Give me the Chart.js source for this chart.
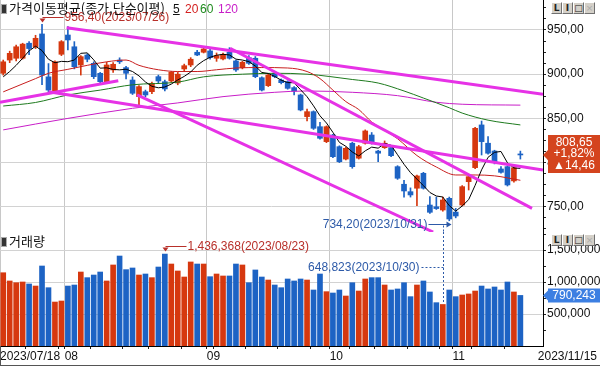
<!DOCTYPE html>
<html>
<head>
<meta charset="utf-8">
<script src="https://cdn.jsdelivr.net/npm/chart.js@4.4.0/dist/chart.umd.min.js"></script>
<style>
  body { margin: 0; background: #fff; }
  #wrap { position: relative; width: 600px; height: 366px; overflow: hidden; font-family: "Noto Sans CJK KR", sans-serif; }
  canvas { position: absolute; left: 0; }
  #price { top: 0; }
  #volume { top: 232px; }
  .head { position: absolute; font-size: 13px; line-height: 14px; white-space: nowrap; color: #111; }
  .num { font: 12px/14px "Liberation Sans", Arial, sans-serif; }
  .ico { display: inline-block; width: 4px; height: 8px; background: #333; border: 1px solid #aaa; margin: 0 2px 0 1px; vertical-align: -1px; }
  .btns { position: absolute; left: 551px; display: flex; }
  .btns span { box-sizing: border-box; width: 11px; height: 12px; background: #d4d0c8; border: 1px solid; border-color: #fff #707070 #707070 #fff; font: bold 9px/10px "DejaVu Sans", sans-serif; text-align: center; color: #222; }
  .btns span.off { color: #aaa; font-weight: normal; }
  .frame { position: absolute; background: #555; }
</style>
</head>
<body>
<div id="wrap">
  <canvas id="price" width="600" height="232"></canvas>
  <canvas id="volume" width="600" height="134"></canvas>
  <div class="head" style="top:1px;left:0"><span class="ico"></span>가격이동평균(종가,단순이평)</div>
  <div class="head num" style="top:2px;left:173px"><u>5</u></div>
  <div class="head num" style="top:2px;left:185px;color:#d42020">20</div>
  <div class="head num" style="top:2px;left:200px;color:#1e8a1e">60</div>
  <div class="head num" style="top:2px;left:218px;color:#c81ec8">120</div>
  <div class="head" style="top:234px;left:0"><span class="ico"></span>거래량</div>
  <div class="btns" style="top:2px"><span>L</span><span>I</span><span>□</span><span class="off">×</span></div>
  <div class="btns" style="top:234px"><span>L</span><span>I</span><span>□</span><span class="off">×</span></div>
  <div class="frame" style="left:0;top:346px;width:1px;height:20px"></div>
  <div class="frame" style="left:0;top:365px;width:600px;height:1px"></div>
</div>
<script>
const dates = [
  "2023/07/18", "2023/07/19", "2023/07/20", "2023/07/21", "2023/07/24", "2023/07/25", "2023/07/26", "2023/07/27", "2023/07/28", "2023/07/31",
  "2023/08/01", "2023/08/02", "2023/08/03", "2023/08/04", "2023/08/07", "2023/08/08", "2023/08/09", "2023/08/10", "2023/08/11", "2023/08/14",
  "2023/08/16", "2023/08/17", "2023/08/18", "2023/08/21", "2023/08/22", "2023/08/23", "2023/08/24", "2023/08/25", "2023/08/28", "2023/08/29",
  "2023/08/30", "2023/08/31", "2023/09/01", "2023/09/04", "2023/09/05", "2023/09/06", "2023/09/07", "2023/09/08", "2023/09/11", "2023/09/12",
  "2023/09/13", "2023/09/14", "2023/09/15", "2023/09/18", "2023/09/19", "2023/09/20", "2023/09/21", "2023/09/22", "2023/09/25", "2023/09/26",
  "2023/09/27", "2023/10/04", "2023/10/05", "2023/10/06", "2023/10/10", "2023/10/11", "2023/10/12", "2023/10/13", "2023/10/16", "2023/10/17",
  "2023/10/18", "2023/10/19", "2023/10/20", "2023/10/23", "2023/10/24", "2023/10/25", "2023/10/26", "2023/10/27", "2023/10/30", "2023/10/31",
  "2023/11/01", "2023/11/02", "2023/11/03", "2023/11/06", "2023/11/07", "2023/11/08", "2023/11/09", "2023/11/10", "2023/11/13", "2023/11/14",
  "2023/11/15",
];

const opens = [
  901, 916, 918, 918, 935, 931, 945.5, 897, 880, 922.5,
  944.3, 931, 910.4, 921.7, 912.3, 901, 891.5, 904.8, 916, 907.4,
  893.4, 874.6, 880.2, 880.2, 897.2, 891.5, 892.3, 890, 905.9, 910.4,
  924.8, 924.8, 926.3, 918, 917.2, 924.8, 915, 907.4, 918.7, 918,
  896, 887, 901, 893.4, 891.5, 884.8, 876.5, 852, 857.6, 840.6,
  823.7, 831.2, 818, 804, 821.9, 805, 821.9, 831.2, 813, 816.9,
  816.9, 795.4, 775.5, 767.1, 771, 787.9, 752, 750, 746.4, 759.6,
  744, 752, 778.4, 794.3, 842.6, 821.9, 813.1, 792.8, 795.4, 779.3,
  808.65,
];
const highs = [
  916, 926, 933, 935, 937, 944, 956.4, 912, 915, 938,
  953.7, 936.8, 921, 923, 914, 902, 913.5, 913, 918.5, 909,
  897, 887, 882, 891, 899, 893.4, 903, 902, 911.4, 918.7,
  927, 930, 929.3, 924, 924, 930, 916, 914.5, 921, 920,
  897, 900, 902.5, 894.6, 892.5, 886, 877.5, 860.5, 858.5, 845.5,
  841.5, 832, 819, 817.5, 823, 819.5, 837, 834, 814, 824.5,
  818, 796.5, 780, 771.4, 786, 789, 761.5, 761, 761, 761,
  748.2, 774, 785, 840, 847, 829.3, 814, 795.4, 796.5, 795.5,
  813,
];
const lows = [
  899, 913, 915, 917, 922, 929, 888, 880, 878, 921,
  927.4, 906, 899, 914, 895, 888.6, 890, 902, 912, 894.6,
  877, 865.2, 874.5, 878, 890, 881, 891, 888, 903, 908.5,
  920.9, 924, 917, 914.5, 916, 917, 903, 906, 911, 896,
  881, 886, 896, 889, 883, 876.5, 858.5, 847, 837.5, 826.5,
  822.5, 805.5, 800, 803, 793.6, 804, 820.9, 820.9, 801, 816,
  806.7, 781, 761, 761, 751.3, 770, 742.5, 747, 745, 734.2,
  737.5, 751, 769, 793, 808.6, 809.6, 798.5, 787.9, 773.5, 778,
  804,
];
const closes = [
  914, 923.6, 931, 934, 929, 940.6, 899, 882, 914, 936.8,
  938.7, 908.5, 919.8, 916.9, 897.2, 891.5, 910.4, 911.2, 914, 901,
  878.4, 885.9, 876.5, 889.7, 892.3, 883.3, 902.2, 900, 909.6, 916.9,
  921.7, 928.5, 918.7, 921, 922.5, 918, 904.8, 913.5, 912.3, 897.2,
  882, 899, 897.2, 890.4, 884, 881, 859.5, 857.6, 838.8, 827.5,
  840.6, 806.7, 801, 816.2, 795.4, 818, 835.8, 821.9, 810.6, 821.9,
  807.8, 782.3, 767.9, 763.4, 784.9, 771, 743.8, 748, 757.7, 736.2,
  739.6, 772.8, 784.1, 838.8, 823.7, 810.6, 801, 789, 774.7, 794.19,
  808.65,
];
const volumes = [
  1145000, 1016000, 989000, 1000000, 969000, 937000, 1250000, 911000, 687000, 703000,
  937000, 953000, 1156000, 1068000, 1109000, 1156000, 1016000, 1266000, 1406000, 1193000,
  1219000, 1109000, 1125000, 1068000, 1234000, 1436368, 1281000, 1172000, 1078000, 1313000,
  1281000, 1281000, 1083000, 1125000, 1094000, 1094000, 1281000, 1266000, 989000, 1188000,
  1078000, 1031000, 953000, 911000, 1047000, 1016000, 1047000, 1031000, 875000, 1125000,
  849000, 828000, 875000, 781000, 989000, 859000, 1047000, 1068000, 1068000, 953000,
  875000, 891000, 989000, 771000, 953000, 1016000, 844000, 677000, 648823, 875000,
  771000, 797000, 813000, 859000, 937000, 891000, 922000, 875000, 1000000, 844000,
  790243,
];

// moving averages
const ma5 = [
  897, 903, 910, 918, 926.3, 931.6, 926.7, 916.9, 912.9, 914.5,
  914.1, 916, 923.6, 924.1, 916.2, 906.8, 907.2, 905.4, 904.9, 905.6,
  903, 898.1, 891.2, 886.3, 884.6, 885.5, 888.8, 893.5, 897.5, 902.4,
  910.1, 915.3, 919.1, 921.4, 922.5, 921.7, 917, 916, 914.2, 909.2,
  902, 900.8, 897.5, 893.2, 890.5, 890.3, 882.4, 874.5, 864.2, 852.9,
  844.8, 834.2, 822.9, 818.4, 812, 807.5, 813.3, 817.5, 816.3, 821.6,
  819.6, 808.9, 798.1, 788.7, 781.3, 773.9, 766.2, 762.2, 761.1, 751.3,
  745.1, 750.9, 758.1, 774.3, 791.8, 806, 811.6, 812.6, 799.8, 793.9,
  793.5,
];
const ma20 = [
  [0, 880], [5, 895], [7, 901], [10, 905.5], [13, 910], [16, 914], [19, 916], [21, 910],
  [24, 905], [27, 903], [30, 903], [33, 905], [36, 907], [40, 907.5], [44, 907], [47, 903],
  [49, 895], [51, 882], [53, 869], [55, 860], [57, 846], [61, 827], [64, 808], [67, 795],
  [70, 786], [73, 786], [76, 785], [80, 780],
];
const ma60 = [
  [0, 864], [5, 868], [10, 876.5], [15, 882], [20, 888], [27, 891], [31, 897], [37, 900],
  [42, 901], [47, 900], [54, 894], [58, 890], [62, 881], [65, 873], [69, 862], [71, 856],
  [75, 848], [80, 842.6],
];
const ma120 = [
  [0, 837], [10, 850], [20, 861.4], [27, 867.5], [34, 874.6], [42, 879.5], [47, 881],
  [54, 879.5], [61, 875.7], [67, 868.2], [71, 866], [80, 865],
];

// user drawn trend lines: [index, price] end points
const trendLines = [
  [[9.8, 952.6], [83.5, 877.3]],
  [[-0.5, 868.2], [17.8, 892.6]],
  [[7, 880.2], [83.5, 791.6]],
  [[20.7, 876.5], [66.5, 721.5]],
  [[35.1, 929.3], [81.8, 748.3]],
];

const priceLabels = [750, 800, 850, 900, 950];
const volumeLabels = [500000, 1000000, 1500000];

const xMin = -0.5;
const xMax = 83.5;
const lastLabelAt = 82.7;
const priceMin = 721.5;
const priceMax = 983.9;
const volumeMax = 1781250;

const upColor = "#d6380f";
const downColor = "#1d63c4";
const trendColor = "#e632e6";
const gridColor = "#d2d2d2";
const redText = "#b8302a";
const blueText = "#2d5aa8";
const axisFont = { family: "'Liberation Sans', Arial, sans-serif", size: 12 };
const clear = "rgba(0,0,0,0)";

const fmtPrice = (v) => v.toFixed(2).replace(".", ",");
const fmtVol = (v) => Math.round(v).toLocaleString("en-US");
const candleColor = (i) => (closes[i] > opens[i] ? upColor : downColor);
const pts = (list) => list.map(([x, y]) => ({ x, y }));

// x axis ticks: first date, month starts, week starts, last date
const axisTicks = [{ value: xMin, label: dates[0], kind: "edge" }];
for (let i = 1; i < dates.length; i++) {
  const m = dates[i].slice(5, 7);
  const pm = dates[i - 1].slice(5, 7);
  const d = new Date(dates[i]);
  const pd = new Date(dates[i - 1]);
  if (m !== pm) {
    axisTicks.push({ value: i - 0.5, label: m, kind: "month" });
  } else if (d.getDay() <= pd.getDay() || d - pd > 6 * 864e5) {
    axisTicks.push({ value: i - 0.5, label: "", kind: "week" });
  }
}
axisTicks.push({ value: lastLabelAt, label: dates[dates.length - 1], kind: "end" });

const tickList = (step, max) => {
  const out = [];
  for (let v = step; v < max; v += step) out.push({ value: v });
  return out;
};

const arrowDown = (ctx, x, y) => {
  ctx.beginPath();
  ctx.moveTo(x - 3, y);
  ctx.lineTo(x + 3, y);
  ctx.lineTo(x, y + 4);
  ctx.closePath();
  ctx.fill();
};

const tag = (ctx, x, y, top, bottom, color) => {
  ctx.fillStyle = color;
  ctx.beginPath();
  ctx.moveTo(x, y);
  ctx.lineTo(x + 5, y - 5);
  ctx.lineTo(x + 5, top);
  ctx.lineTo(600, top);
  ctx.lineTo(600, bottom);
  ctx.lineTo(x + 5, bottom);
  ctx.lineTo(x + 5, y + 5);
  ctx.closePath();
  ctx.fill();
};

const priceMarks = {
  id: "priceMarks",
  afterDatasetsDraw(chart) {
    const { ctx, chartArea } = chart;
    const { x, y } = chart.scales;
    ctx.save();
    ctx.font = "12px 'Liberation Sans', Arial";
    ctx.textBaseline = "middle";
    ctx.lineWidth = 1;

    // highest high
    const iHi = highs.indexOf(Math.max(...highs));
    let px = Math.round(x.getPixelForValue(iHi)) + 0.5;
    let ty = Math.round(y.getPixelForValue(highs[iHi])) - 6.5;
    ctx.strokeStyle = ctx.fillStyle = redText;
    ctx.beginPath();
    ctx.moveTo(px, ty);
    ctx.lineTo(px + 21, ty);
    ctx.stroke();
    arrowDown(ctx, px, ty + 1);
    ctx.textAlign = "left";
    ctx.fillText(`${fmtPrice(highs[iHi])}(${dates[iHi]})`, px + 22, ty);

    // lowest low
    const iLo = lows.indexOf(Math.min(...lows));
    px = Math.round(x.getPixelForValue(iLo)) + 1.5;
    ty = Math.round(y.getPixelForValue(lows[iLo])) + 3.5;
    ctx.strokeStyle = ctx.fillStyle = blueText;
    ctx.beginPath();
    ctx.moveTo(px - 22, ty);
    ctx.lineTo(px, ty);
    ctx.stroke();
    ctx.beginPath();
    ctx.moveTo(px + 1, ty);
    ctx.lineTo(px - 4, ty - 3);
    ctx.lineTo(px - 4, ty + 3);
    ctx.closePath();
    ctx.fill();
    ctx.textAlign = "right";
    ctx.fillText(`${fmtPrice(lows[iLo])}(${dates[iLo]})`, px - 23, ty);

    // dotted guide of the lowest volume day starts here
    const iVol = volumes.indexOf(Math.min(...volumes));
    const vx = Math.round(x.getPixelForValue(iVol)) + 0.5;
    ctx.setLineDash([2, 2]);
    ctx.beginPath();
    ctx.moveTo(vx, ty + 1);
    ctx.lineTo(vx, chartArea.bottom);
    ctx.stroke();
    ctx.setLineDash([]);

    // last price tag
    const n = closes.length - 1;
    const cy = y.getPixelForValue(closes[n]);
    tag(ctx, chartArea.right, cy, cy - 20, cy + 18, "#d4441e");
    const diff = closes[n] - closes[n - 1];
    ctx.fillStyle = "#fff";
    ctx.textAlign = "center";
    ctx.fillText(fmtPrice(closes[n]), 574, cy - 12);
    ctx.fillText(`+${fmtPrice((diff / closes[n - 1]) * 100)}%`, 574, cy - 1);
    ctx.fillText(`▲${fmtPrice(diff)}`, 574, cy + 10.5);
    ctx.restore();
  },
};

const volumeMarks = {
  id: "volumeMarks",
  afterDatasetsDraw(chart) {
    const { ctx, chartArea } = chart;
    const { x, y } = chart.scales;
    ctx.save();
    ctx.font = "12px 'Liberation Sans', Arial";
    ctx.textBaseline = "middle";
    ctx.lineWidth = 1;

    const iHi = volumes.indexOf(Math.max(...volumes));
    let px = Math.round(x.getPixelForValue(iHi)) + 0.5;
    let ty = Math.round(y.getPixelForValue(volumes[iHi])) - 7.5;
    ctx.strokeStyle = ctx.fillStyle = redText;
    ctx.beginPath();
    ctx.moveTo(px, ty);
    ctx.lineTo(px + 21, ty);
    ctx.stroke();
    arrowDown(ctx, px, ty + 1);
    ctx.textAlign = "left";
    ctx.fillText(`${fmtVol(volumes[iHi])}(${dates[iHi]})`, px + 22, ty);

    const iLo = volumes.indexOf(Math.min(...volumes));
    px = Math.round(x.getPixelForValue(iLo)) + 0.5;
    const barTop = Math.round(y.getPixelForValue(volumes[iLo]));
    ty = barTop - 36.5;
    ctx.strokeStyle = ctx.fillStyle = blueText;
    ctx.setLineDash([2, 2]);
    ctx.beginPath();
    ctx.moveTo(px, chartArea.top);
    ctx.lineTo(px, barTop - 1);
    ctx.moveTo(px - 22, ty);
    ctx.lineTo(px, ty);
    ctx.stroke();
    ctx.setLineDash([]);
    ctx.textAlign = "right";
    ctx.fillText(`${fmtVol(volumes[iLo])}(${dates[iLo]})`, px - 24, ty);

    const n = volumes.length - 1;
    const cy = y.getPixelForValue(volumes[n]);
    tag(ctx, chartArea.right, cy, cy - 7, cy + 7, "#3c7fe2");
    ctx.fillStyle = "#fff";
    ctx.textAlign = "center";
    ctx.fillText(fmtVol(volumes[n]), 574, cy);
    ctx.restore();
  },
};

const xScale = (withLabels) => ({
  type: "linear",
  min: xMin,
  max: xMax,
  offset: false,
  afterBuildTicks: (s) => {
    s.ticks = axisTicks.map((t) => ({ value: t.value }));
  },
  afterFit: (s) => {
    s.height = withLabels ? 20 : 0;
    s.paddingLeft = 0;
    s.paddingRight = 0;
  },
  ticks: {
    display: withLabels,
    autoSkip: false,
    maxRotation: 0,
    minRotation: 0,
    align: "start",
    padding: 0,
    color: "#111",
    font: axisFont,
    callback: (v, i) => axisTicks[i].label,
  },
  grid: {
    offset: false,
    drawTicks: withLabels,
    tickLength: 3,
    color: (c) => {
      const t = axisTicks[c.index];
      return t && (t.kind === "month" || t.kind === "edge") ? "#c8c8c8" : clear;
    },
    tickColor: (c) => {
      const t = axisTicks[c.index];
      return t && (t.kind === "month" || t.kind === "week") ? "#222" : clear;
    },
  },
  border: { display: true, color: withLabels ? "#000" : "#8c8c8c" },
});

const yScale = (min, max, step, labels, fmt) => ({
  type: "linear",
  position: "right",
  min,
  max,
  afterBuildTicks: (s) => {
    s.ticks = tickList(step, max);
  },
  afterFit: (s) => {
    s.width = 57;
    s.paddingTop = 0;
    s.paddingBottom = 0;
  },
  ticks: {
    autoSkip: false,
    padding: 1,
    color: "#111",
    font: axisFont,
    callback: (v) => (labels.includes(v) ? fmt(v) : ""),
  },
  grid: {
    drawTicks: true,
    tickLength: 3,
    color: (c) => (c.tick && labels.includes(c.tick.value) ? gridColor : clear),
    tickColor: "#222",
  },
  border: { display: true, color: "#000" },
});

const baseOptions = {
  responsive: false,
  animation: false,
  events: [],
  layout: { padding: 0 },
  plugins: { legend: { display: false }, tooltip: { enabled: false } },
};

const maLine = (data, color) => ({
  type: "line",
  data,
  borderColor: color,
  borderWidth: 1,
  pointRadius: 0,
  cubicInterpolationMode: "monotone",
  order: 2,
});

new Chart(document.getElementById("price"), {
  type: "line",
  data: {
    datasets: [
      ...trendLines.map((seg) => ({
        data: pts(seg),
        borderColor: trendColor,
        borderWidth: 3,
        pointRadius: 0,
        clip: 0,
        order: 0,
      })),
      { ...maLine(ma5.map((v, i) => ({ x: i, y: v })), "#000"), cubicInterpolationMode: "default", order: 1 },
      maLine(pts(ma20), "#c81e1e"),
      maLine(pts(ma60), "#1e7a1e"),
      maLine(pts(ma120), "#c81ec8"),
      {
        type: "bar",
        data: lows.map((v, i) => ({ x: i, y: [v, highs[i]] })),
        backgroundColor: (c) => candleColor(c.dataIndex),
        barThickness: 1,
        grouped: false,
        order: 11,
      },
      {
        type: "bar",
        data: opens.map((v, i) => ({ x: i, y: [v, closes[i]] })),
        backgroundColor: (c) => candleColor(c.dataIndex),
        barThickness: 5,
        minBarLength: 1,
        grouped: false,
        order: 10,
      },
    ],
  },
  options: {
    ...baseOptions,
    scales: {
      x: xScale(false),
      y: yScale(priceMin, priceMax, 12.5, priceLabels, fmtPrice),
    },
  },
  plugins: [priceMarks],
});

new Chart(document.getElementById("volume"), {
  type: "bar",
  data: {
    datasets: [
      {
        data: volumes.map((v, i) => ({ x: i, y: v })),
        backgroundColor: (c) => candleColor(c.dataIndex),
        barThickness: 5,
        grouped: false,
      },
    ],
  },
  options: {
    ...baseOptions,
    scales: {
      x: xScale(true),
      y: yScale(0, volumeMax, 250000, volumeLabels, fmtVol),
    },
  },
  plugins: [volumeMarks],
});
</script>
</body>
</html>
